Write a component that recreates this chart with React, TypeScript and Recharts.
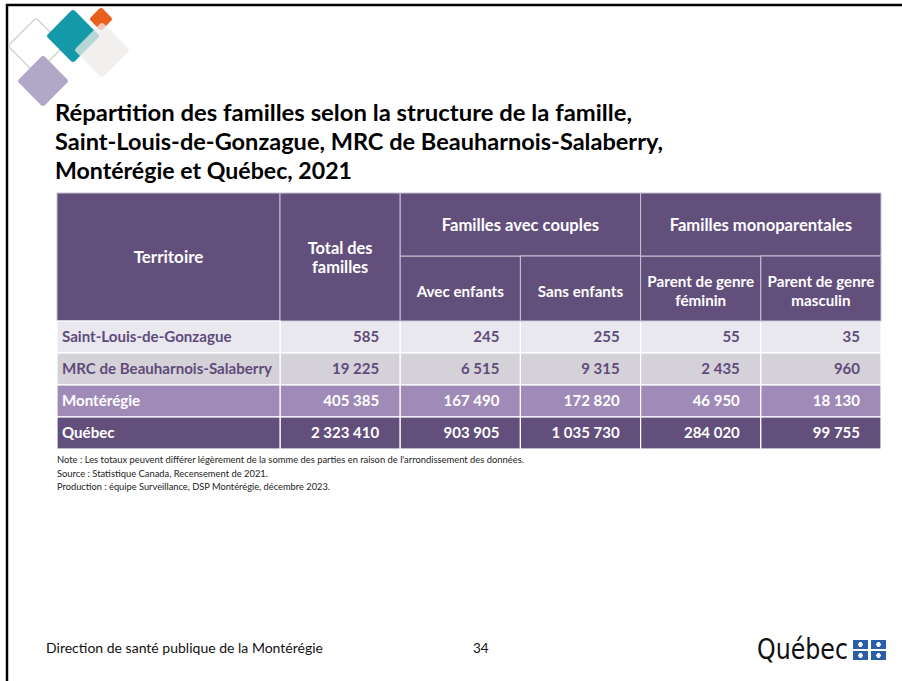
import React from 'react';
import { ScatterChart, Scatter, XAxis, YAxis } from 'recharts';

// ---------- data ----------
const territories = [
  'Saint-Louis-de-Gonzague',
  'MRC de Beauharnois-Salaberry',
  'Montérégie',
  'Québec',
];
const totalFamilles = [585, 19225, 405385, 2323410];
const avecEnfants = [245, 6515, 167490, 903905];
const sansEnfants = [255, 9315, 172820, 1035730];
const parentFeminin = [55, 2435, 46950, 284020];
const parentMasculin = [35, 960, 18130, 99755];

const columnKeys = ['total', 'avec', 'sans', 'fem', 'masc'];
const columnHeaders = [
  ['Total des', 'familles'],
  ['Avec enfants'],
  ['Sans enfants'],
  ['Parent de genre', 'féminin'],
  ['Parent de genre', 'masculin'],
];
const groupLabels = ['Familles avec couples', 'Familles monoparentales'];
const groupOfColumn = [-1, 0, 0, 1, 1];
const territoryHeader = 'Territoire';

const titleLines = [
  'Répartition des familles selon la structure de la famille,',
  'Saint-Louis-de-Gonzague, MRC de Beauharnois-Salaberry,',
  'Montérégie et Québec, 2021',
];
const noteLines = [
  "Note : Les totaux peuvent différer légèrement de la somme des parties en raison de l'arrondissement des données.",
  'Source : Statistique Canada, Recensement de 2021.',
  'Production : équipe Surveillance, DSP Montérégie, décembre 2023.',
];
const footerText = 'Direction de santé publique de la Montérégie';
const pageNumber = '34';
const logoText = 'Québec';

const columnValues = [totalFamilles, avecEnfants, sansEnfants, parentFeminin, parentMasculin];

const cellData = territories.flatMap((t, r) =>
  columnKeys.map((k, c) => ({ row: t, col: k, value: columnValues[c][r], r, c }))
);

// ---------- layout / style ----------
const W = 902;
const H = 681;
const TABLE_LEFT = 57;
const TABLE_TOP = 193;
const TERR_W = 223;
const HEADER_H = 128;
const SUB_TOP = 256;
const PLOT_LEFT = TABLE_LEFT + TERR_W;
const PLOT_RIGHT = 881;
const PLOT_TOP = TABLE_TOP + HEADER_H;
const ROW_H = 32;
const PLOT_BOTTOM = PLOT_TOP + ROW_H * territories.length;
const COL_W = (PLOT_RIGHT - PLOT_LEFT) / columnKeys.length;

const HEAD_BG = '#634f7c';
const ROW_BG = ['#e9e8ef', '#d5d1d8', '#a08bb8', '#634f7c'];
const ROW_TXT = ['#5f4b7b', '#5f4b7b', '#ffffff', '#ffffff'];
const FONT = 'Lato, "Open Sans", sans-serif';
const LINE = '#ffffff';
const HEAD_LINE = '#c9c1d6';

const TITLE_W = [577, 608, 297];
const NOTE_W = [467, 211, 273];

const fmt = (v: number) => String(v).replace(/\B(?=(\d{3})+(?!\d))/g, '\u00a0');

const CellShape = (props: any) => {
  const { cx, cy, payload } = props;
  if (cx == null || cy == null || !payload) return null;
  const r = payload.r;
  return (
    <g>
      <rect x={cx - COL_W / 2} y={cy - ROW_H / 2} width={COL_W} height={ROW_H} fill={ROW_BG[r]} stroke={LINE} strokeWidth={1.2} />
      <text x={cx + COL_W / 2 - 21} y={cy} dy="0.36em" textAnchor="end" fontFamily={FONT} fontWeight={700} fontSize={15} fill={ROW_TXT[r]}>
        {fmt(payload.value)}
      </text>
    </g>
  );
};

const YTick = (props: any) => {
  const { y, payload } = props;
  const r = territories.indexOf(payload.value);
  return (
    <g>
      <rect x={TABLE_LEFT} y={y - ROW_H / 2} width={TERR_W} height={ROW_H} fill={ROW_BG[r]} stroke={LINE} strokeWidth={1.2} />
      <text x={TABLE_LEFT + 5} y={y} dy="0.36em" textAnchor="start" fontFamily={FONT} fontWeight={700} fontSize={15.1} fill={ROW_TXT[r]}>
        {payload.value}
      </text>
    </g>
  );
};

const HeadText = ({ x, cy, lines, size = 15.2 }: any) => {
  const lh = 19;
  const start = cy - ((lines.length - 1) * lh) / 2;
  return (
    <text textAnchor="middle" fontFamily={FONT} fontWeight={700} fontSize={size} fill="#ffffff">
      {lines.map((l: string, i: number) => (
        <tspan key={i} x={x} y={start + i * lh} dy="0.36em">{l}</tspan>
      ))}
    </text>
  );
};

const XTick = (props: any) => {
  const { x, payload } = props;
  const c = columnKeys.indexOf(payload.value);
  const left = x - COL_W / 2;
  const g = groupOfColumn[c];
  const parts: any[] = [];
  if (c === 0) {
    parts.push(
      <rect key="terr" x={TABLE_LEFT} y={TABLE_TOP} width={TERR_W} height={HEADER_H} fill={HEAD_BG} stroke={HEAD_LINE} strokeWidth={1} />,
      <HeadText key="terrt" x={TABLE_LEFT + TERR_W / 2} cy={TABLE_TOP + 64} lines={[territoryHeader]} size={17} />
    );
  }
  if (g < 0) {
    parts.push(
      <rect key="full" x={left} y={TABLE_TOP} width={COL_W} height={HEADER_H} fill={HEAD_BG} stroke={HEAD_LINE} strokeWidth={1} />,
      <HeadText key="fullt" x={x} cy={TABLE_TOP + 65} lines={columnHeaders[c]} size={16.4} />
    );
  } else {
    parts.push(
      <rect key="sub" x={left} y={SUB_TOP} width={COL_W} height={PLOT_TOP - SUB_TOP} fill={HEAD_BG} stroke={HEAD_LINE} strokeWidth={1} />,
      <HeadText key="subt" x={x} cy={(SUB_TOP + PLOT_TOP) / 2 + 3} lines={columnHeaders[c]} />
    );
    if (groupOfColumn.indexOf(g) === c) {
      const span = groupOfColumn.filter((v) => v === g).length;
      parts.push(
        <rect key="grp" x={left} y={TABLE_TOP} width={COL_W * span} height={SUB_TOP - TABLE_TOP} fill={HEAD_BG} stroke={HEAD_LINE} strokeWidth={1} />,
        <HeadText key="grpt" x={left + (COL_W * span) / 2} cy={(TABLE_TOP + SUB_TOP) / 2 + 1} lines={[groupLabels[g]]} size={16.6} />
      );
    }
  }
  return <g>{parts}</g>;
};

const Diamond = ({ cx, cy, half, fill, stroke, opacity = 1, strokeWidth = 0 }: any) => {
  const s = half * Math.SQRT2;
  return (
    <rect
      x={cx - s / 2}
      y={cy - s / 2}
      width={s}
      height={s}
      rx={3}
      fill={fill}
      stroke={stroke}
      strokeWidth={strokeWidth}
      opacity={opacity}
      transform={`rotate(45 ${cx} ${cy})`}
    />
  );
};

const Decor = () => (
  <svg width={W} height={H} style={{ position: 'absolute', left: 0, top: 0 }}>
    <rect x={0} y={0} width={W} height={H} fill="#ffffff" />
    {/* frame */}
    <line x1={6} y1={5} x2={W} y2={5} stroke="#000" strokeWidth={2.5} />
    <line x1={7} y1={4} x2={7} y2={H} stroke="#000" strokeWidth={2.5} />
    {/* logo diamonds */}
    <Diamond cx={36} cy={46} half={28} fill="none" stroke="#d3dbd0" strokeWidth={1.5} />
    <Diamond cx={101} cy={19} half={12} fill="#e8601c" />
    <Diamond cx={73} cy={36} half={27} fill="#1499a8" />
    <Diamond cx={102} cy={50} half={28} fill="#eeebe8" opacity={0.75} />
    <Diamond cx={43} cy={81} half={26} fill="#b1a8c8" />
    {/* title */}
    {titleLines.map((t, i) => (
      <text key={i} x={55} y={121 + i * 29} fontFamily={FONT} fontWeight={700} fontSize={23} fill="#000"
        textLength={TITLE_W[i]} lengthAdjust="spacingAndGlyphs">
        {t}
      </text>
    ))}
    {/* notes */}
    {noteLines.map((t, i) => (
      <text key={i} x={57} y={463 + i * 13.5} fontFamily={FONT} fontSize={9} fill="#222"
        textLength={NOTE_W[i]} lengthAdjust="spacingAndGlyphs">
        {t}
      </text>
    ))}
    {/* footer */}
    <text x={46} y={653} fontFamily={FONT} fontSize={13.5} fill="#111" textLength={277} lengthAdjust="spacingAndGlyphs">{footerText}</text>
    <text x={473} y={653} fontFamily={FONT} fontSize={13.5} fill="#111">{pageNumber}</text>
    <text x={757} y={659} fontFamily='"DejaVu Sans Condensed", "DejaVu Sans", sans-serif' fontSize={28} fill="#111"
      textLength={91} lengthAdjust="spacingAndGlyphs">{logoText}</text>
    {[0, 1].map((i) =>
      [0, 1].map((j) => {
        const x = 853 + i * 18;
        const y = 640 + j * 11;
        return (
          <g key={`${i}-${j}`}>
            <rect x={x} y={y} width={15} height={9} fill="#2a5ea9" />
            <rect x={x + 6.2} y={y + 2} width={2.6} height={5} fill="#fff" />
            <rect x={x + 5} y={y + 3.5} width={5} height={2} fill="#fff" />
          </g>
        );
      })
    )}
  </svg>
);

export default function App() {
  return (
    <div style={{ position: 'absolute', left: 0, top: 0, width: W, height: H, background: '#fff' }}>
      <Decor />
      <div style={{ position: 'absolute', left: 0, top: 0 }}>
        <ScatterChart
          width={W}
          height={H}
          margin={{ top: TABLE_TOP, left: TABLE_LEFT, right: W - PLOT_RIGHT, bottom: H - PLOT_BOTTOM }}
        >
          <XAxis
            type="category"
            dataKey="col"
            orientation="top"
            height={HEADER_H}
            allowDuplicatedCategory={false}
            interval={0}
            axisLine={false}
            tickLine={false}
            tick={<XTick />}
          />
          <YAxis
            type="category"
            dataKey="row"
            width={TERR_W}
            reversed
            allowDuplicatedCategory={false}
            interval={0}
            axisLine={false}
            tickLine={false}
            tick={<YTick />}
          />
          <Scatter data={cellData} shape={<CellShape />} isAnimationActive={false} />
        </ScatterChart>
      </div>
    </div>
  );
}
